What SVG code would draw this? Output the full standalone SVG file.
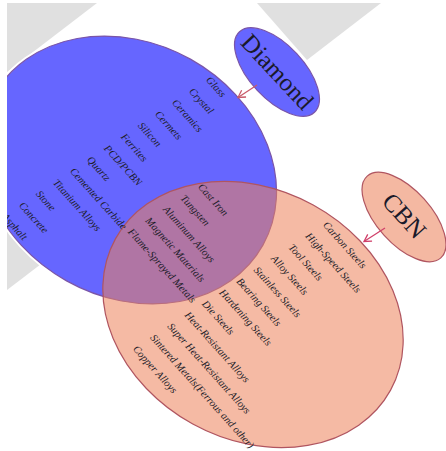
<svg xmlns="http://www.w3.org/2000/svg" width="446" height="451" viewBox="0 0 446 451">
<style>
.bg{fill:#e0e0e0}
.t{font-family:"Liberation Serif","Times New Roman",serif;font-style:italic;font-size:10.5px;fill:#1c1c28}
.big{font-family:"Liberation Serif","Times New Roman",serif;font-size:25px;fill:#1a1a2a;text-anchor:middle}
.con{fill:none;stroke-width:1.3}
</style>
<defs>
<marker id="ahD" viewBox="-9 -6 11 12" refX="0" refY="0" markerWidth="11" markerHeight="12" markerUnits="userSpaceOnUse" orient="auto">
<path d="M-7,-4 L0,0 L-7,4" fill="none" stroke="#c85a6a" stroke-width="1.3"/>
</marker>
<marker id="ahC" viewBox="-9 -6 11 12" refX="0" refY="0" markerWidth="11" markerHeight="12" markerUnits="userSpaceOnUse" orient="auto">
<path d="M-7,-4 L0,0 L-7,4" fill="none" stroke="#d0406a" stroke-width="1.3"/>
</marker>
</defs>
<rect width="446" height="451" fill="#ffffff"/>
<g id="background">
<polygon class="bg" points="7,3 97,3 7,72"/>
<polygon class="bg" points="257,3 381,3 307,60"/>
<polygon class="bg" points="7,150 7,290 45,261 60,150"/>
</g>
<g id="set-diamond">
<ellipse cx="128.5" cy="170" rx="154" ry="127" transform="rotate(29.2 128.5 170)" fill="none" stroke="#ffffff" stroke-width="5"/>
<ellipse cx="128.5" cy="170" rx="154" ry="127" transform="rotate(29.2 128.5 170)" fill="#6666ff" stroke="#7a55a8" stroke-width="1.2"/>
</g>
<g id="set-cbn">
<ellipse cx="253" cy="314.5" rx="157" ry="125" transform="rotate(28.8 253 314.5)" fill="#ec825a" fill-opacity="0.55" stroke="#b05560" stroke-width="1.2"/>
</g>
<g id="list-diamond">
<text class="t" x="205.4" y="80.3" transform="rotate(48 205.4 80.3)">Glass</text>
<text class="t" x="188.4" y="91.7" transform="rotate(48 188.4 91.7)">Crystal</text>
<text class="t" x="171.4" y="103.1" transform="rotate(48 171.4 103.1)">Ceramics</text>
<text class="t" x="154.4" y="114.5" transform="rotate(48 154.4 114.5)">Cermets</text>
<text class="t" x="137.4" y="125.9" transform="rotate(48 137.4 125.9)">Silicon</text>
<text class="t" x="120.4" y="137.3" transform="rotate(48 120.4 137.3)">Ferrites</text>
<text class="t" x="103.4" y="148.7" transform="rotate(48 103.4 148.7)">PCD/PCBN</text>
<text class="t" x="86.4" y="160.1" transform="rotate(48 86.4 160.1)">Quartz</text>
<text class="t" x="69.4" y="171.5" transform="rotate(48 69.4 171.5)">Cemented Carbide</text>
<text class="t" x="52.4" y="182.9" transform="rotate(48 52.4 182.9)">Titanium Alloys</text>
<text class="t" x="35.4" y="194.3" transform="rotate(48 35.4 194.3)">Stone</text>
<text class="t" x="18.4" y="205.7" transform="rotate(48 18.4 205.7)">Concrete</text>
<text class="t" x="1.4" y="217.1" transform="rotate(48 1.4 217.1)">Asphalt</text>
</g>
<g id="list-both">
<text class="t" x="197.4" y="187.3" transform="rotate(48 197.4 187.3)">Cast Iron</text>
<text class="t" x="179.9" y="198.6" transform="rotate(48 179.9 198.6)">Tungsten</text>
<text class="t" x="162.4" y="209.8" transform="rotate(48 162.4 209.8)">Aluminum Alloys</text>
<text class="t" x="144.9" y="221.1" transform="rotate(48 144.9 221.1)">Magnetic Materials</text>
<text class="t" x="127.4" y="232.3" transform="rotate(48 127.4 232.3)">Flame-Sprayed Metals</text>
</g>
<g id="list-cbn">
<text class="t" x="322.4" y="225.3" transform="rotate(48 322.4 225.3)">Carbon Steels</text>
<text class="t" x="305.1" y="236.6" transform="rotate(48 305.1 236.6)">High-Speed Steels</text>
<text class="t" x="287.9" y="247.8" transform="rotate(48 287.9 247.8)">Tool Steels</text>
<text class="t" x="270.6" y="259.1" transform="rotate(48 270.6 259.1)">Alloy Steels</text>
<text class="t" x="253.3" y="270.4" transform="rotate(48 253.3 270.4)">Stainless Steels</text>
<text class="t" x="236" y="281.7" transform="rotate(48 236 281.7)">Bearing Steels</text>
<text class="t" x="218.8" y="292.9" transform="rotate(48 218.8 292.9)">Hardening Steels</text>
<text class="t" x="201.5" y="304.2" transform="rotate(48 201.5 304.2)">Die Steels</text>
<text class="t" x="184.2" y="315.5" transform="rotate(48 184.2 315.5)">Heat-Resistant Alloys</text>
<text class="t" x="166.9" y="326.7" transform="rotate(48 166.9 326.7)">Super Heat-Resistant Alloys</text>
<text class="t" x="149.7" y="338" transform="rotate(48 149.7 338)">Sintered Metals(Ferrous and other)</text>
<text class="t" x="132.4" y="349.3" transform="rotate(48 132.4 349.3)">Copper Alloys</text>
</g>
<g id="node-diamond">
<ellipse cx="277" cy="72" rx="55" ry="27" transform="rotate(47 277 72)" fill="#6666ff" stroke="#7a55a8" stroke-width="1.2"/>
<text class="big" x="0" y="8" transform="translate(277 72) rotate(47)">Diamond</text>
</g>
<g id="node-cbn">
<ellipse cx="404" cy="217" rx="55" ry="27" transform="rotate(48 404 217)" fill="#f4b8a2" stroke="#b05560" stroke-width="1.2"/>
<text class="big" x="0" y="8" transform="translate(404 216) rotate(48)">CBN</text>
</g>
<g id="connectors">
<line class="con" x1="257" y1="85" x2="238" y2="97.5" stroke="#c85a6a" marker-end="url(#ahD)"/>
<line class="con" x1="385" y1="228" x2="364" y2="241.5" stroke="#d0406a" marker-end="url(#ahC)"/>
</g>
<g id="margins">
<rect x="0" y="0" width="7" height="451" fill="#ffffff"/>
<rect x="0" y="0" width="446" height="3" fill="#ffffff"/>
</g>
</svg>
